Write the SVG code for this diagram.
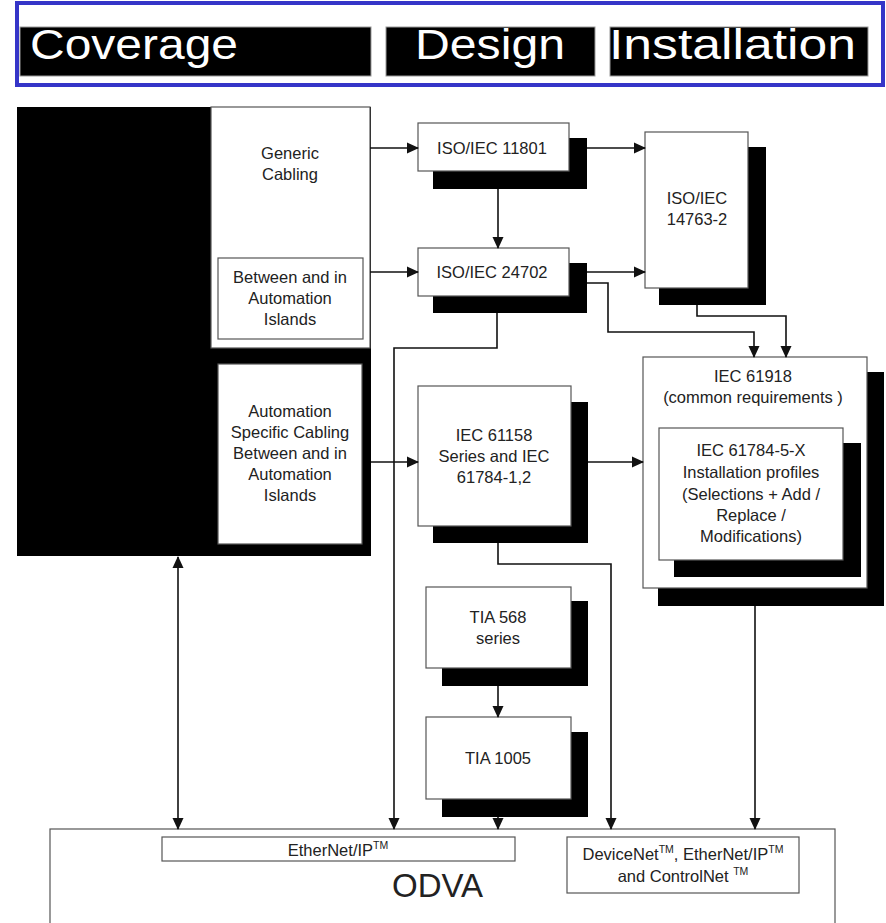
<svg xmlns="http://www.w3.org/2000/svg" width="886" height="923" viewBox="0 0 886 923">
<style>
.box{fill:#fff;stroke:#555;stroke-width:1.2}
.sh{fill:#000}
.t{font-family:"Liberation Sans",Arial,sans-serif;font-size:16.5px;fill:#222;text-anchor:middle}
.h{font-family:"Liberation Sans",Arial,sans-serif;font-size:43px;fill:#fff}
.c{fill:none;stroke:#111;stroke-width:1.6}
.sup{font-size:10.5px}
</style>
<defs>
<marker id="ah" markerUnits="userSpaceOnUse" markerWidth="12" markerHeight="12" refX="11" refY="6" orient="auto-start-reverse" viewBox="0 0 12 12">
<path d="M0,0.5 L12,6 L0,11.5 z" fill="#111"/>
</marker>
</defs>
<rect width="886" height="923" fill="#fff"/>
<g id="header">
<rect x="17" y="3" width="866" height="82" fill="#fff" stroke="#3535c8" stroke-width="4"/>
<rect x="20" y="27" width="351" height="49" fill="#000" stroke="#999" stroke-width="1"/>
<rect x="386" y="27" width="209" height="49" fill="#000" stroke="#999" stroke-width="1"/>
<rect x="610" y="27" width="258" height="49" fill="#000" stroke="#999" stroke-width="1"/>
<text class="h" x="30" y="59" textLength="208" lengthAdjust="spacingAndGlyphs">Coverage</text>
<text class="h" x="415" y="59" textLength="150" lengthAdjust="spacingAndGlyphs">Design</text>
<text class="h" x="609" y="59" textLength="247" lengthAdjust="spacingAndGlyphs">Installation</text>
</g>
<g id="coverage">
<rect x="17" y="107" width="354" height="449" fill="#000"/>
</g>
<g id="generic">
<rect class="box" x="211" y="107" width="159" height="241"/>
<text class="t" x="290" y="159">Generic</text>
<text class="t" x="290" y="180">Cabling</text>
</g>
<g id="between">
<rect class="box" x="218" y="258" width="145" height="81"/>
<text class="t" x="290" y="283">Between and in</text>
<text class="t" x="290" y="304">Automation</text>
<text class="t" x="290" y="325">Islands</text>
</g>
<g id="automation">
<rect class="box" x="218" y="364" width="144" height="180"/>
<text class="t" x="290" y="417">Automation</text>
<text class="t" x="290" y="438">Specific Cabling</text>
<text class="t" x="290" y="459">Between and in</text>
<text class="t" x="290" y="480">Automation</text>
<text class="t" x="290" y="501">Islands</text>
</g>
<g id="iso11801">
<rect class="sh" x="433" y="138" width="154" height="51"/>
<rect class="box" x="418" y="123" width="151" height="48"/>
<text class="t" x="492" y="154">ISO/IEC 11801</text>
</g>
<g id="iso24702">
<rect class="sh" x="433" y="263" width="154" height="50"/>
<rect class="box" x="418" y="248" width="151" height="48"/>
<text class="t" x="492" y="278">ISO/IEC 24702</text>
</g>
<g id="iso14763">
<rect class="sh" x="659" y="147" width="107" height="158"/>
<rect class="box" x="645" y="132" width="103" height="156"/>
<text class="t" x="697" y="204">ISO/IEC</text>
<text class="t" x="697" y="225">14763-2</text>
</g>
<g id="iec61158">
<rect class="sh" x="433" y="402" width="155" height="141"/>
<rect class="box" x="418" y="386" width="153" height="140"/>
<text class="t" x="494" y="441">IEC 61158</text>
<text class="t" x="494" y="462">Series and IEC</text>
<text class="t" x="494" y="483">61784-1,2</text>
</g>
<g id="iec61918">
<rect class="sh" x="658" y="372" width="226" height="234"/>
<rect class="box" x="643" y="357" width="224" height="231"/>
<text class="t" x="753" y="382">IEC 61918</text>
<text class="t" x="753" y="403">(common requirements )</text>
</g>
<g id="iec61784">
<rect class="sh" x="674" y="443" width="187" height="134"/>
<rect class="box" x="659" y="428" width="184" height="132"/>
<text class="t" x="751" y="456">IEC 61784-5-X</text>
<text class="t" x="751" y="478">Installation profiles</text>
<text class="t" x="751" y="500">(Selections + Add /</text>
<text class="t" x="751" y="521">Replace /</text>
<text class="t" x="751" y="542">Modifications)</text>
</g>
<g id="tia568">
<rect class="sh" x="442" y="601" width="146" height="85"/>
<rect class="box" x="426" y="587" width="145" height="81"/>
<text class="t" x="498" y="623">TIA 568</text>
<text class="t" x="498" y="644">series</text>
</g>
<g id="tia1005">
<rect class="sh" x="442" y="732" width="146" height="85"/>
<rect class="box" x="426" y="717" width="145" height="82"/>
<text class="t" x="498" y="764">TIA 1005</text>
</g>
<g id="odva">
<rect class="box" x="50" y="829" width="785" height="110"/>
<text x="392" y="897" font-family="Liberation Sans,Arial,sans-serif" font-size="33" fill="#222">ODVA</text>
</g>
<g id="ethernetip">
<rect class="box" x="162" y="837" width="353" height="24"/>
<text class="t" x="338" y="856">EtherNet/IP<tspan class="sup" dy="-7">TM</tspan></text>
</g>
<g id="devicenet">
<rect class="box" x="567" y="837" width="232" height="56"/>
<text class="t" x="683" y="860">DeviceNet<tspan class="sup" dy="-7">TM</tspan><tspan dy="7">, EtherNet/IP</tspan><tspan class="sup" dy="-7">TM</tspan></text>
<text class="t" x="683" y="882">and ControlNet <tspan class="sup" dy="-7">TM</tspan></text>
</g>
<g id="connectors">
<path class="c" d="M370,148 H418" marker-end="url(#ah)"/>
<path class="c" d="M370,272 H418" marker-end="url(#ah)"/>
<path class="c" d="M498,189 V248" marker-end="url(#ah)"/>
<path class="c" d="M587,148 H645" marker-end="url(#ah)"/>
<path class="c" d="M587,272 H645" marker-end="url(#ah)"/>
<path class="c" d="M587,283 H608 V332 H754 V357" marker-end="url(#ah)"/>
<path class="c" d="M697,305 V316 H786 V357" marker-end="url(#ah)"/>
<path class="c" d="M497,313 V348 H394 V829" marker-end="url(#ah)"/>
<path class="c" d="M371,462 H418" marker-end="url(#ah)"/>
<path class="c" d="M588,462 H643" marker-end="url(#ah)"/>
<path class="c" d="M498,543 V564 H611 V829" marker-end="url(#ah)"/>
<path class="c" d="M498,686 V717" marker-end="url(#ah)"/>
<path class="c" d="M498,817 V829" marker-end="url(#ah)"/>
<path class="c" d="M755,606 V829" marker-end="url(#ah)"/>
<path class="c" d="M178,557 V829" marker-start="url(#ah)" marker-end="url(#ah)"/>
</g>
</svg>
